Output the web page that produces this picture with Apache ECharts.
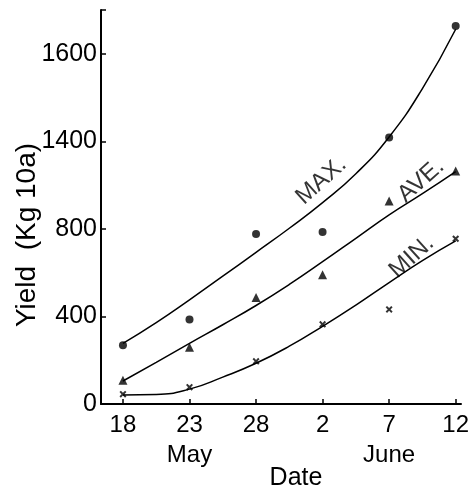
<!DOCTYPE html>
<html>
<head>
<meta charset="utf-8">
<script src="https://cdn.jsdelivr.net/npm/echarts@6/dist/echarts.min.js"></script>
<style>
  html, body { margin: 0; padding: 0; background: #fff; }
  #main { width: 472px; height: 488px; }
</style>
</head>
<body>
<div id="main"></div>
<script>
// days counted from 18 May
var days = [0, 5, 10, 15, 20, 25]
var dayLabels = ['18', '23\nMay', '28', '2', '7\nJune', '12']
// y tick labels as printed on the original figure
var yTicks = [0, 400, 800, 1200, 1600]
var yTickLabels = ['0', '400', '800', '1400', '1600']

// measured points
var maxPts = [268, 386, 777, 786, 1218, 1727]
var avePts = [109, 259, 486, 591, 927, 1064]
var minPts = [45, 77, 195, 364, 432, 755]

// fitted curves, every 2.5 days
var curveDays = [0, 2.5, 5, 7.5, 10, 12.5, 15, 17.5, 20, 22.5, 25]
var maxCurve = [277, 372, 476, 584, 693, 803, 920, 1052, 1220, 1441, 1712]
var aveCurve = [105, 190, 277, 362, 450, 546, 650, 757, 864, 961, 1062]
var minCurve = [41, 43, 68, 123, 186, 264, 355, 452, 555, 655, 745]

// curve names written along the lines
var curveNames = ['MAX.', 'AVE.', 'MIN.']
var nameAt = [[14.9, 1020], [22.4, 1020], [21.7, 672]]

function pairs (xs, vals) {
  return xs.map(function (d, i) { return [d, vals[i]] })
}

var font = 'Liberation Sans'
var crossPath = 'path://M2,0L5,3L8,0L10,2L7,5L10,8L8,10L5,7L2,10L0,8L3,5L0,2Z'

var chart = echarts.init(document.getElementById('main'))

function curve (vals) {
  return {
    type: 'line',
    data: pairs(curveDays, vals),
    smooth: 0.5,
    symbol: 'none',
    lineStyle: { color: '#000', width: 1.5 },
    z: 2
  }
}

function points (vals, symbol, size) {
  return {
    type: 'scatter',
    data: pairs(days, vals),
    symbol: symbol,
    symbolSize: size,
    itemStyle: { color: '#000' },
    z: 3
  }
}

chart.setOption({
  animation: false,
  grid: {
    left: 101, right: 11, top: 10, bottom: 84,
    containLabel: false,
    outerBoundsMode: 'none'
  },
  xAxis: {
    type: 'value',
    min: -1.65,
    max: 25.4,
    splitLine: { show: false },
    axisLine: { onZero: false, lineStyle: { color: '#000', width: 2 } },
    axisTick: { inside: true, length: 5, lineStyle: { color: '#000', width: 1.5 } },
    axisLabel: {
      color: '#000',
      fontFamily: font,
      fontSize: 24,
      lineHeight: 30,
      margin: 6,
      showMinLabel: false,
      showMaxLabel: false,
      formatter: function (v) {
        var i = days.indexOf(v)
        return i < 0 ? '' : dayLabels[i]
      }
    },
    name: 'Date',
    nameLocation: 'middle',
    nameGap: 62,
    nameMoveOverlap: false,
    nameTextStyle: { color: '#000', fontFamily: font, fontSize: 25, padding: [0, 0, 0, 30] }
  },
  yAxis: {
    type: 'value',
    min: 0,
    max: 1800,
    interval: 400,
    splitLine: { show: false },
    axisLine: { show: true, onZero: false, lineStyle: { color: '#000', width: 2 } },
    axisTick: { show: true, inside: true, length: 5, lineStyle: { color: '#000', width: 1.5 } },
    axisLabel: {
      color: '#000',
      fontFamily: font,
      fontSize: 25,
      margin: 4,
      formatter: function (v) {
        var i = yTicks.indexOf(v)
        return i < 0 ? '' : yTickLabels[i]
      }
    },
    name: 'Yield  (Kg 10a)',
    nameLocation: 'middle',
    nameGap: 60,
    nameMoveOverlap: false,
    nameTextStyle: { color: '#000', fontFamily: font, fontSize: 28, padding: [0, 56, 0, 0] }
  },
  series: [
    curve(maxCurve),
    curve(aveCurve),
    curve(minCurve),
    points(maxPts, 'circle', 8),
    points(avePts, 'triangle', 9),
    points(minPts, crossPath, 7),
    {
      type: 'scatter',
      symbolSize: 0,
      data: curveNames.map(function (n, i) {
        return { name: n, value: nameAt[i] }
      }),
      label: {
        show: true,
        position: 'inside',
        rotate: 42,
        formatter: '{b}',
        color: '#000',
        fontFamily: font,
        fontSize: 24
      },
      silent: true,
      z: 4
    }
  ]
})
</script>
</body>
</html>
